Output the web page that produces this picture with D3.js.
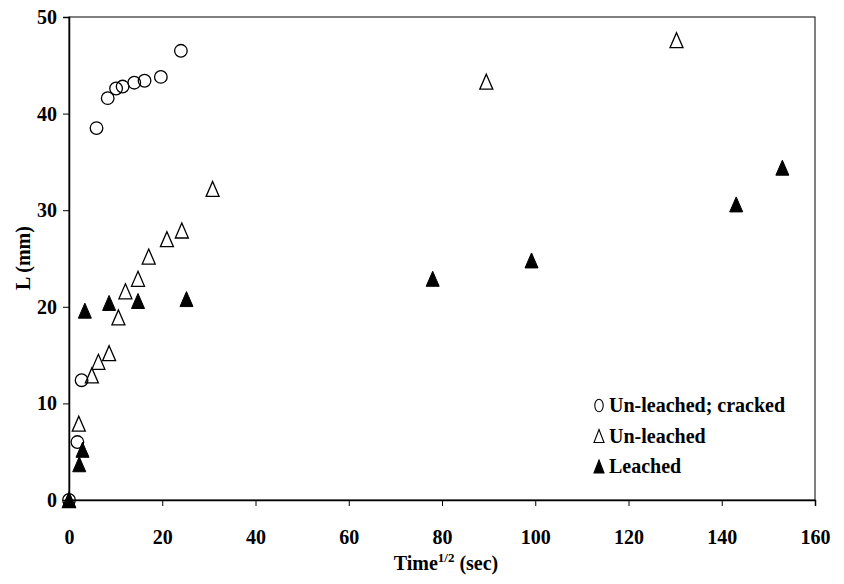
<!DOCTYPE html>
<html>
<head>
<meta charset="utf-8">
<script src="https://cdn.jsdelivr.net/npm/d3@7"></script>
<style>
  html, body { margin: 0; padding: 0; background: #fff; }
  svg text { font-family: "Liberation Serif", "Times New Roman", serif; font-weight: bold; fill: #000; }
</style>
</head>
<body>
<svg id="chart" width="844" height="584"></svg>
<script>
// Penetration depth L (mm) against square root of time (sec^1/2)
const crackedX   = [0, 1.8, 2.7, 5.9, 8.3, 10.1, 11.5, 14.0, 16.2, 19.7, 24.0];
const crackedY   = [0, 6.0, 12.4, 38.5, 41.6, 42.6, 42.8, 43.2, 43.4, 43.8, 46.5];

const unleachedX = [0, 2.1, 4.9, 6.3, 8.6, 10.6, 12.1, 14.8, 17.1, 21.0, 24.2, 30.8, 89.5, 130.3];
const unleachedY = [0, 7.9, 12.9, 14.3, 15.2, 18.9, 21.6, 22.9, 25.2, 27.0, 27.9, 32.2, 43.3, 47.6];

const leachedX   = [0, 2.2, 2.9, 3.4, 8.6, 14.8, 25.2, 78.0, 99.2, 143.1, 153.0];
const leachedY   = [0, 3.7, 5.2, 19.6, 20.4, 20.6, 20.8, 22.9, 24.8, 30.6, 34.4];

const seriesNames = ["Un-leached; cracked", "Un-leached", "Leached"];
const xTicks = [0, 20, 40, 60, 80, 100, 120, 140, 160];
const yTicks = [0, 10, 20, 30, 40, 50];

const svg = d3.select("#chart");
const plotLeft = 69, plotRight = 815, plotTop = 17, plotBottom = 500;

const x = d3.scaleLinear().domain([0, 160]).range([plotLeft, plotRight]);
const y = d3.scaleLinear().domain([0, 50]).range([plotBottom, plotTop]);

// plot frame
svg.append("rect")
  .attr("x", plotLeft).attr("y", plotTop)
  .attr("width", plotRight - plotLeft).attr("height", plotBottom - plotTop)
  .attr("fill", "none").attr("stroke", "#000").attr("stroke-width", 1);

// axes
const xAxis = svg.append("g")
  .attr("transform", `translate(0,${plotBottom})`)
  .call(d3.axisBottom(x).tickValues(xTicks).tickFormat(d3.format("d")).tickSize(6).tickPadding(24));
const yAxis = svg.append("g")
  .attr("transform", `translate(${plotLeft},0)`)
  .call(d3.axisLeft(y).tickValues(yTicks).tickFormat(d3.format("d")).tickSize(6).tickPadding(6));

[xAxis, yAxis].forEach(g => {
  g.select(".domain").attr("stroke", "#000").attr("stroke-width", 1.5);
  g.selectAll(".tick line").attr("stroke", "#000").attr("stroke-width", 1);
  g.selectAll(".tick text")
    .style("font-family", "'Liberation Serif', 'Times New Roman', serif")
    .style("font-weight", "bold")
    .style("font-size", "20px")
    .attr("fill", "#000");
});

// axis titles
const xt = svg.append("text")
  .attr("x", 446).attr("y", 570)
  .attr("text-anchor", "middle")
  .style("font-size", "20px");
xt.append("tspan").text("Time");
xt.append("tspan").attr("dy", -8).style("font-size", "13px").text("1/2");
xt.append("tspan").attr("dy", 8).text(" (sec)");

svg.append("text")
  .attr("transform", "translate(30,258) rotate(-90)")
  .attr("text-anchor", "middle")
  .style("font-size", "20px")
  .text("L (mm)");

// marker shapes
const triW = 13, triH = 15;
const triPath = `M0,${-triH / 2}L${triW / 2},${triH / 2}L${-triW / 2},${triH / 2}Z`;

const pts = (xs, ys) => xs.map((v, i) => [v, ys[i]]);

const marks = svg.append("g");

marks.selectAll("circle.cracked")
  .data(pts(crackedX, crackedY))
  .join("circle")
  .attr("class", "cracked")
  .attr("cx", d => x(d[0])).attr("cy", d => y(d[1]))
  .attr("r", 6.3)
  .attr("fill", "none").attr("stroke", "#000").attr("stroke-width", 1.3);

marks.selectAll("path.unleached")
  .data(pts(unleachedX, unleachedY))
  .join("path")
  .attr("class", "unleached")
  .attr("d", triPath)
  .attr("transform", d => `translate(${x(d[0])},${y(d[1])})`)
  .attr("fill", "none").attr("stroke", "#000").attr("stroke-width", 1.3);

marks.selectAll("path.leached")
  .data(pts(leachedX, leachedY))
  .join("path")
  .attr("class", "leached")
  .attr("d", triPath)
  .attr("transform", d => `translate(${x(d[0])},${y(d[1])})`)
  .attr("fill", "#000").attr("stroke", "#000").attr("stroke-width", 1);

// legend
const legend = svg.append("g").attr("transform", "translate(599,412)");
const rowGap = 30.5;
seriesNames.forEach((name, i) => {
  const row = legend.append("g").attr("transform", `translate(0,${i * rowGap})`);
  if (i === 0) {
    row.append("ellipse").attr("cx", 0).attr("cy", -6.5).attr("rx", 4.2).attr("ry", 6.3)
      .attr("fill", "none").attr("stroke", "#000").attr("stroke-width", 1.1);
  } else {
    row.append("path")
      .attr("d", "M0,-13L5,0L-5,0Z")
      .attr("fill", i === 2 ? "#000" : "none")
      .attr("stroke", "#000").attr("stroke-width", 1.1);
  }
  row.append("text").attr("x", 10).attr("y", 0).style("font-size", "20px").text(name);
});
</script>
</body>
</html>
